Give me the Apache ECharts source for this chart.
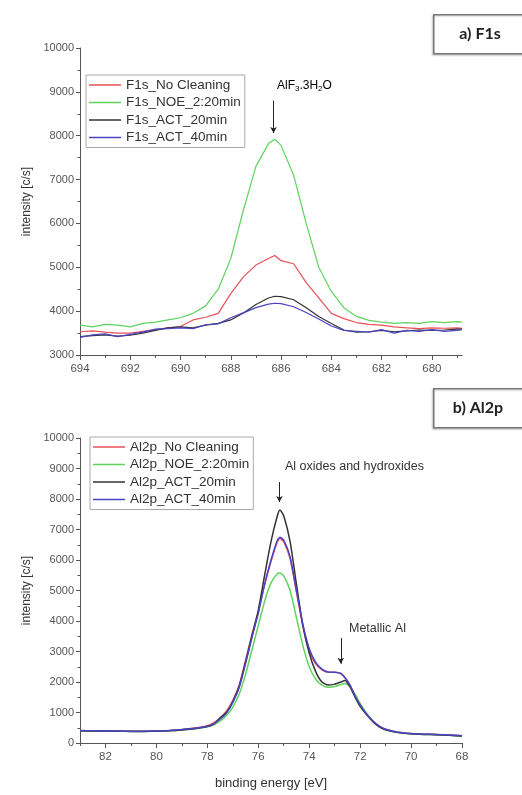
<!DOCTYPE html>
<html>
<head>
<meta charset="utf-8">
<script src="https://cdn.jsdelivr.net/npm/echarts@6/dist/echarts.min.js"></script>
<style>
  html,body{margin:0;padding:0;background:#fff;}
  #main{width:522px;height:795px;}
</style>
</head>
<body>
<div id="main"></div>
<script>
    // a) F1s  -- binding energy [eV]
    var f1sEnergy = [694, 693.5, 693, 692.5, 692, 691.5, 691, 690.5, 690, 689.5, 689, 688.5, 688, 687.5, 687, 686.5, 686.25, 686, 685.5, 685, 684.5, 684, 683.5, 683, 682.5, 682, 681.5, 681, 680.5, 680, 679.5, 679, 678.8];
    var f1sNoCleaning = [3530, 3550, 3520, 3500, 3500, 3540, 3580, 3620, 3650, 3800, 3860, 3950, 4400, 4780, 5050, 5200, 5270, 5150, 5080, 4650, 4300, 3950, 3830, 3740, 3700, 3680, 3640, 3620, 3600, 3620, 3610, 3620, 3610];
    var f1sNoe = [3680, 3640, 3700, 3680, 3640, 3720, 3750, 3800, 3850, 3950, 4120, 4500, 5200, 6300, 7300, 7820, 7920, 7780, 7100, 6000, 5000, 4450, 4080, 3880, 3790, 3750, 3720, 3740, 3720, 3760, 3740, 3760, 3750];
    var f1sAct20 = [3420, 3440, 3460, 3430, 3450, 3500, 3560, 3620, 3640, 3620, 3680, 3720, 3800, 3960, 4150, 4300, 4340, 4330, 4260, 4080, 3880, 3720, 3570, 3520, 3530, 3560, 3530, 3550, 3570, 3560, 3570, 3590, 3590];
    var f1sAct40 = [3400, 3460, 3480, 3420, 3470, 3520, 3590, 3600, 3620, 3600, 3690, 3710, 3850, 3960, 4080, 4160, 4180, 4170, 4100, 3970, 3820, 3660, 3560, 3540, 3520, 3580, 3500, 3560, 3540, 3580, 3540, 3560, 3580];
    var f1sNames = ["F1s_No Cleaning", "F1s_NOE_2:20min", "F1s_ACT_20min", "F1s_ACT_40min"];
    var f1sXLabels = [694, 692, 690, 688, 686, 684, 682, 680];
    var f1sXMinor = [693, 691, 689, 687, 685, 683, 681, 679];

    // b) Al2p
    var al2pEnergy = [83, 82.5, 82, 81.5, 81, 80.5, 80, 79.5, 79, 78.5, 78, 77.75, 77.5, 77.25, 77, 76.75, 76.5, 76.25, 76, 75.75, 75.5, 75.25, 75.15, 75, 74.75, 74.5, 74.25, 74, 73.75, 73.5, 73.25, 73, 72.75, 72.6, 72.4, 72.2, 72, 71.75, 71.5, 71.25, 71, 70.5, 70, 69.5, 69, 68.5, 68];
    var al2pNoCleaning = [410, 400, 395, 390, 385, 385, 390, 410, 440, 490, 570, 660, 820, 1040, 1400, 1900, 2700, 3550, 4300, 5200, 5950, 6600, 6700, 6600, 6050, 4950, 3850, 3050, 2600, 2400, 2320, 2320, 2270, 2150, 1900, 1550, 1250, 950, 720, 550, 450, 350, 310, 290, 280, 260, 240];
    var al2pNoe = [400, 395, 390, 385, 380, 380, 385, 400, 425, 465, 530, 600, 720, 900, 1180, 1600, 2250, 3050, 3850, 4650, 5250, 5550, 5570, 5480, 5000, 4100, 3200, 2500, 2100, 1900, 1830, 1850, 1920, 1950, 1850, 1600, 1300, 980, 720, 540, 430, 340, 300, 280, 270, 250, 230];
    var al2pAct20 = [400, 395, 390, 385, 380, 380, 385, 400, 430, 470, 540, 620, 820, 1000, 1350, 1850, 2650, 3500, 4350, 5500, 6600, 7450, 7640, 7450, 6600, 5200, 3850, 2950, 2350, 2000, 1900, 1930, 2000, 2050, 1850, 1500, 1200, 930, 700, 530, 430, 340, 300, 280, 270, 250, 230];
    var al2pAct40 = [410, 400, 395, 390, 385, 385, 390, 410, 440, 480, 550, 630, 780, 980, 1330, 1820, 2600, 3450, 4250, 5200, 6000, 6650, 6750, 6650, 6100, 5000, 3900, 3100, 2650, 2420, 2330, 2320, 2280, 2150, 1900, 1550, 1250, 950, 720, 550, 450, 350, 310, 290, 280, 260, 240];
    var al2pNames = ["Al2p_No Cleaning", "Al2p_NOE_2:20min", "Al2p_ACT_20min", "Al2p_ACT_40min"];
    var al2pXLabels = [82, 80, 78, 76, 74, 72, 70, 68];
    var al2pXMinor = [83, 81, 79, 77, 75, 73, 71, 69];

    var colors = ["#e8505a", "#5fd35f", "#333333", "#4a44c4"];
    var fontName = "Liberation Sans, Arial, sans-serif";

    function zip(xs, ys){
        var out = [];
        for(var i = 0; i < xs.length; i++){
            out.push([xs[i], ys[i]]);
        }
        return out;
    }

    function mainX(gridIdx, min, max, labels, name){
        return {
            type: 'value', gridIndex: gridIdx, inverse: true, position: 'bottom',
            min: min, max: max,
            name: name, nameLocation: 'middle', nameGap: 34,
            nameTextStyle: {fontFamily: fontName, fontSize: 13, color: '#333'},
            axisLine: {lineStyle: {color: '#555', width: 1}},
            axisTick: {show: true, length: 5, customValues: labels, lineStyle: {color: '#555'}},
            axisLabel: {customValues: labels, fontFamily: fontName, fontSize: 11.5, color: '#555', margin: 8},
            splitLine: {show: false}
        };
    }
    function minorX(gridIdx, min, max, ticks){
        return {
            type: 'value', gridIndex: gridIdx, inverse: true, position: 'bottom', offset: 0,
            min: min, max: max,
            axisLine: {show: false},
            axisTick: {show: true, length: 3, customValues: ticks, lineStyle: {color: '#555'}},
            axisLabel: {show: false},
            splitLine: {show: false}
        };
    }
    function yAx(gridIdx, min){
        return {
            type: 'value', gridIndex: gridIdx, min: min, max: 10000, interval: 1000,
            name: 'intensity [c/s]', nameLocation: 'middle', nameGap: 40, nameRotate: 90,
            nameTextStyle: {fontFamily: fontName, fontSize: 12, color: '#333'},
            axisLine: {show: true, lineStyle: {color: '#555', width: 1}},
            axisTick: {show: true, length: 4, lineStyle: {color: '#555'}},
            minorTick: {show: true, splitNumber: 2, length: 2.5, lineStyle: {color: '#555'}},
            axisLabel: {fontFamily: fontName, fontSize: 11, color: '#555', margin: 6,
                formatter: function(v){ return String(v); }},
            splitLine: {show: false}
        };
    }
    function legendBox(names, left, top){
        return {
            orient: 'vertical', left: left, top: top, data: names,
            icon: 'rect', itemWidth: 32, itemHeight: 1.5, itemGap: 3.5,
            padding: [3, 4, 3, 3],
            borderColor: '#aaa', borderWidth: 1,
            textStyle: {fontFamily: fontName, fontSize: 13.5, color: '#333', lineHeight: 14}
        };
    }

    var series = [];
    var f1sData = [f1sNoCleaning, f1sNoe, f1sAct20, f1sAct40];
    var al2pData = [al2pNoCleaning, al2pNoe, al2pAct20, al2pAct40];
    for(var i = 0; i < 4; i++){
        series.push({
            name: f1sNames[i], type: 'line', xAxisIndex: 0, yAxisIndex: 0,
            data: zip(f1sEnergy, f1sData[i]), showSymbol: false,
            lineStyle: {color: colors[i], width: 1.2}, itemStyle: {color: colors[i]}
        });
    }
    for(var j = 0; j < 4; j++){
        series.push({
            name: al2pNames[j], type: 'line', xAxisIndex: 2, yAxisIndex: 1,
            data: zip(al2pEnergy, al2pData[j]), showSymbol: false, smooth: 0.2,
            lineStyle: {color: colors[j], width: 1.5}, itemStyle: {color: colors[j]}
        });
    }
    // arrows
    var arrowStyle = {color: '#222', width: 1, type: 'solid'};
    series[1].markLine = {
        silent: true, symbol: ['none', 'arrow'], symbolSize: [5, 6], label: {show: false},
        lineStyle: arrowStyle,
        data: [[{coord: [686.3, 8800]}, {coord: [686.3, 8060]}]]
    };
    series[6].markLine = {
        silent: true, symbol: ['none', 'arrow'], symbolSize: [5, 6], label: {show: false},
        lineStyle: arrowStyle,
        data: [
            [{coord: [75.17, 8560]}, {coord: [75.17, 7900]}],
            [{coord: [72.76, 3440]}, {coord: [72.76, 2600]}]
        ]
    };

    var subStyle = {fontFamily: fontName, fontSize: 8, color: '#333', padding: [6, 0, 0, 0]};
    var txtStyle = {fontFamily: fontName, fontSize: 12, color: '#333'};

    var option = {
        backgroundColor: '#fff',
        animation: false,
        grid: [
            {left: 80, top: 48, width: 382, height: 307},
            {left: 80, top: 438, width: 382, height: 305}
        ],
        xAxis: [
            mainX(0, 678.8, 694, f1sXLabels, ''),
            minorX(0, 678.8, 694, f1sXMinor),
            mainX(1, 68, 83, al2pXLabels, 'binding energy [eV]'),
            minorX(1, 68, 83, al2pXMinor)
        ],
        yAxis: [yAx(0, 3000), yAx(1, 0)],
        legend: [legendBox(f1sNames, 86, 75), legendBox(al2pNames, 90, 437)],
        series: series,
        graphic: [
            {type: 'rect', left: 433, top: 14, shape: {width: 100, height: 39},
             style: {fill: '#fff', stroke: '#777', lineWidth: 1.5, shadowColor: 'rgba(0,0,0,0.2)', shadowBlur: 2, shadowOffsetX: -1, shadowOffsetY: 1}},
            {type: 'text', x: 480, y: 34, style: {text: 'a) F1s', fontFamily: 'Lato, sans-serif', fontWeight: 'bold', fontSize: 16, fill: '#222', align: 'center', verticalAlign: 'middle'}},
            {type: 'rect', left: 433, top: 388, shape: {width: 100, height: 39},
             style: {fill: '#fff', stroke: '#777', lineWidth: 1.5, shadowColor: 'rgba(0,0,0,0.2)', shadowBlur: 2, shadowOffsetX: -1, shadowOffsetY: 1}},
            {type: 'text', x: 478, y: 408, style: {text: 'b) Al2p', fontFamily: 'Lato, sans-serif', fontWeight: 'bold', fontSize: 16, fill: '#222', align: 'center', verticalAlign: 'middle'}},
            {type: 'text', x: 277, y: 79, style: {
                text: '{a|AlF}{s|3}{a|.3H}{s|2}{a|O}',
                rich: {a: txtStyle, s: subStyle}
            }},
            {type: 'text', x: 285, y: 460, style: {text: 'Al oxides and hydroxides', fontFamily: fontName, fontSize: 12.5, fill: '#333'}},
            {type: 'text', x: 349, y: 622, style: {text: 'Metallic Al', fontFamily: fontName, fontSize: 12.5, fill: '#333'}}
        ]
    };

    var myChart = echarts.init(document.getElementById("main"));
    if (option && typeof option === "object") {
        myChart.setOption(option, true);
    }
</script>
</body>
</html>
